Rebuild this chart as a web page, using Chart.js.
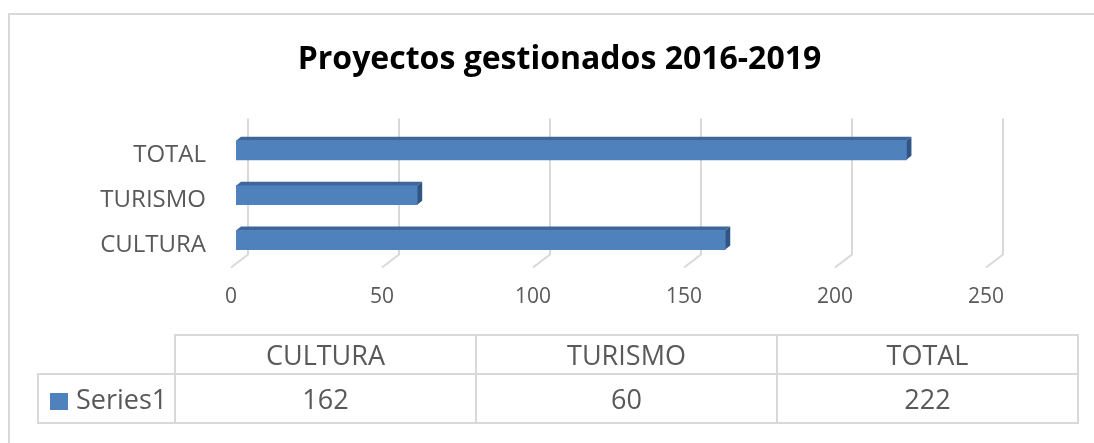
<!DOCTYPE html>
<html>
<head>
<meta charset="utf-8">
<title>Proyectos gestionados 2016-2019</title>
<script src="https://cdn.jsdelivr.net/npm/chart.js@4.4.1/dist/chart.umd.min.js"></script>
<style>
    html, body { margin: 0; padding: 0; background: #fff; overflow: hidden; }
    #wrap { position: relative; width: 1094px; height: 443px; overflow: hidden; font-family: 'Open Sans', sans-serif; }
    #frame { position: absolute; left: 8px; top: 13px; width: 1200px; height: 600px; border: 2px solid #d9d9d9; box-sizing: border-box; }
    #chart { position: absolute; left: 0; top: 0; }
    #dataTable { position: absolute; left: 37px; top: 334px; border-collapse: collapse; table-layout: fixed; color: #595959; font-size: 27px; }
    #dataTable td { border: 2px solid #d9d9d9; padding: 0; text-align: center; vertical-align: middle; white-space: nowrap; }
    #dataTable tr.head td { height: 37px; }
    #dataTable tr.vals td { height: 47px; }
    #dataTable td.corner { border-top: none; border-left: none; }
    #dataTable td.name { text-align: left; padding-left: 11px; }
    .swatch { display: inline-block; width: 18px; height: 17px; background: #4f81bd; margin-right: 8px; vertical-align: -1px; }
</style>
</head>
<body>
<div id="wrap">
    <div id="frame"></div>
    <canvas id="chart" width="1094" height="443"></canvas>
    <table id="dataTable">
        <colgroup><col style="width:137px"><col style="width:301px"><col style="width:301px"><col style="width:301px"></colgroup>
        <tbody></tbody>
    </table>
</div>
<script>
(function () {
    'use strict';

    // ====== Data ======
    const categories = ['CULTURA', 'TURISMO', 'TOTAL'];
    const seriesName = 'Series1';
    const seriesValues = [162, 60, 222];
    const xTicks = [0, 50, 100, 150, 200, 250];

    const FONT = "'Open Sans', sans-serif";
    const TEXT = '#595959';

    // ====== 3D look: slanted floor grid + bar top/end faces ======
    const BAR_SHIFT = { x: 5, y: -5 };   // bars sit a bit behind the front plane
    const BAR_DEPTH = { x: 5, y: -4 };
    const WALL = { x: 17, y: -13, top: 14.5 };

    const pseudo3d = {
        id: 'pseudo3d',
        beforeDatasetsDraw(chart) {
            const { ctx, chartArea: a, scales: { x } } = chart;
            ctx.save();
            ctx.strokeStyle = '#d9d9d9';
            ctx.lineWidth = 2;
            x.ticks.forEach(t => {
                const px = x.getPixelForValue(t.value);
                ctx.beginPath();
                ctx.moveTo(px + WALL.x, a.top - WALL.top);
                ctx.lineTo(px + WALL.x, a.bottom + WALL.y);
                ctx.lineTo(px, a.bottom);
                ctx.stroke();
            });
            ctx.restore();

            ctx.save();
            ctx.translate(BAR_SHIFT.x, BAR_SHIFT.y);
        },
        afterDatasetsDraw(chart) {
            const { ctx } = chart;
            chart.getDatasetMeta(0).data.forEach(bar => {
                const { x, y, base, height } = bar.getProps(['x', 'y', 'base', 'height'], true);
                const top = y - height / 2, bottom = y + height / 2;
                const dx = BAR_DEPTH.x, dy = BAR_DEPTH.y;

                ctx.fillStyle = '#3d679a';
                ctx.beginPath();
                ctx.moveTo(base, top);
                ctx.lineTo(base + dx, top + dy);
                ctx.lineTo(x + dx, top + dy);
                ctx.lineTo(x, top);
                ctx.closePath();
                ctx.fill();

                ctx.fillStyle = '#2f5686';
                ctx.beginPath();
                ctx.moveTo(x, top);
                ctx.lineTo(x + dx, top + dy);
                ctx.lineTo(x + dx, bottom + dy);
                ctx.lineTo(x, bottom);
                ctx.closePath();
                ctx.fill();
            });
            ctx.restore();
        }
    };

    // ====== Chart ======
    new Chart(document.getElementById('chart'), {
        type: 'bar',
        data: {
            labels: categories,
            datasets: [{
                label: seriesName,
                data: seriesValues,
                backgroundColor: '#4f81bd',
                borderWidth: 0,
                barThickness: 19
            }]
        },
        options: {
            indexAxis: 'y',
            responsive: false,
            animation: false,
            layout: { padding: { left: 25, right: 0, top: 0, bottom: 115.5 } },
            scales: {
                x: {
                    min: 0,
                    max: 250,
                    afterBuildTicks: (s) => { s.ticks = xTicks.map(v => ({ value: v })); },
                    afterFit: (s) => { s.height = 60; },
                    grid: { display: false, drawTicks: false },
                    border: { display: false },
                    ticks: { padding: 17, color: TEXT, font: { family: FONT, size: 21 } }
                },
                y: {
                    reverse: true,
                    afterFit: (s) => { s.width = 206; },
                    grid: { display: false, drawTicks: false },
                    border: { display: false },
                    ticks: { padding: 25, color: TEXT, font: { family: FONT, size: 24 } }
                },
                // empty spacer on the right so the title stays centred on the page
                yRight: {
                    type: 'category',
                    position: 'right',
                    afterFit: (s) => { s.width = 108; },
                    grid: { display: false, drawTicks: false },
                    border: { display: false },
                    ticks: { display: false }
                }
            },
            plugins: {
                legend: { display: false },
                tooltip: { enabled: false },
                title: {
                    display: true,
                    text: 'Proyectos gestionados 2016-2019',
                    color: '#000',
                    font: { family: FONT, size: 32, weight: 'bold' },
                    padding: { top: 41, bottom: 53.5 }
                }
            }
        },
        plugins: [pseudo3d]
    });

    // ====== Data table ======
    const tbody = document.querySelector('#dataTable tbody');
    const head = document.createElement('tr');
    head.className = 'head';
    head.innerHTML = '<td class="corner"></td>' + categories.map(c => `<td>${c}</td>`).join('');
    const vals = document.createElement('tr');
    vals.className = 'vals';
    vals.innerHTML = `<td class="name"><span class="swatch"></span>${seriesName}</td>` +
        seriesValues.map(v => `<td>${v}</td>`).join('');
    tbody.appendChild(head);
    tbody.appendChild(vals);
})();
</script>
</body>
</html>
